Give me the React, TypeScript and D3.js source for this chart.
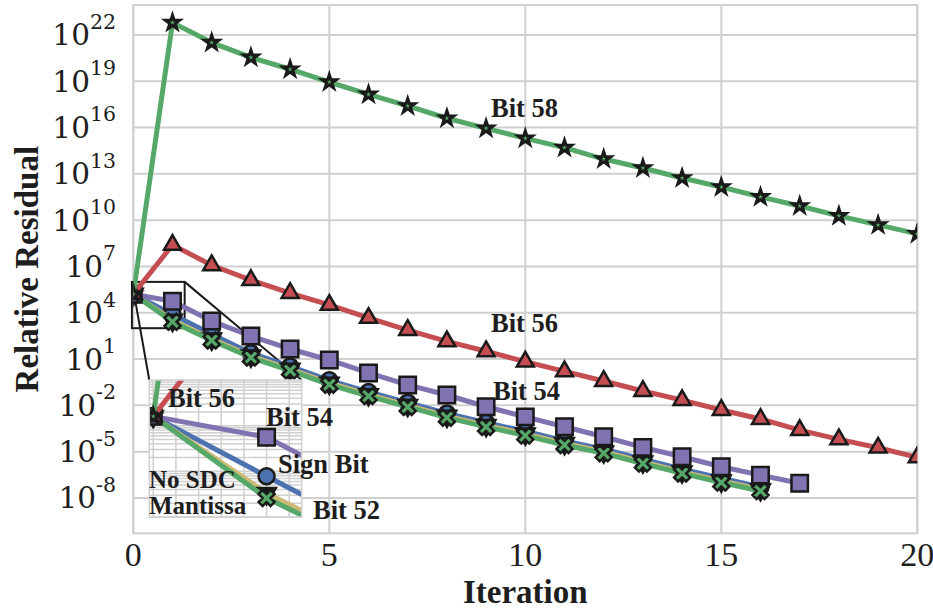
import React from 'react';
import * as d3 from 'd3';

// ---- data (relative residual per iteration) ----
const iterations = [0,1,2,3,4,5,6,7,8,9,10,11,12,13,14,15,16,17,18,19,20];
const bit58 = [1.6e5, 6.3e22, 3.2e21, 3.5e20, 6.0e19, 8.9e18, 1.4e18, 2.5e17, 4.0e16, 8.9e15, 2.0e15, 5.0e14, 9.1e13, 2.4e13, 5.4e12, 1.4e12, 3.2e11, 8.3e10, 1.9e10, 4.9e9, 1.3e9];
const bit56 = [1.6e5, 2.5e8, 1.2e7, 1.3e6, 1.9e5, 3.2e4, 4.6e3, 7.6e2, 1.4e2, 32, 6.8, 1.6, 0.38, 0.085, 0.022, 5.0e-3, 1.3e-3, 2.5e-4, 6.3e-5, 1.8e-5, 4.3e-6];
const bit54 = [1.6e5, 5.6e4, 2.9e3, 3.1e2, 45, 8.7, 1.26, 0.21, 0.047, 8.1e-3, 1.8e-3, 4.1e-4, 9.3e-5, 1.9e-5, 4.7e-6, 1.05e-6, 3.0e-7, 8.9e-8];
const signBit = [1.6e5, 7.8e3, 4.0e2, 24, 3.3, 0.42, 0.074, 0.015, 3.0e-3, 7.4e-4, 2.1e-4, 5.0e-5, 1.45e-5, 3.2e-6, 7.2e-7, 1.9e-7, 5.2e-8];
const noSDC = [1.6e5, 3.3e3, 2.0e2, 15.8, 2.2, 0.28, 0.05, 0.01, 2.0e-3, 5.0e-4, 1.4e-4, 3.4e-5, 9.8e-6, 2.2e-6, 4.9e-7, 1.26e-7, 3.5e-8];
const mantissa = [1.6e5, 2.6e3, 1.6e2, 12.6, 1.8, 0.22, 0.04, 7.9e-3, 1.6e-3, 4.0e-4, 1.1e-4, 2.7e-5, 7.8e-6, 1.7e-6, 3.9e-7, 1.0e-7, 2.8e-8];

const xTicks = [0, 5, 10, 15, 20];
const yTickExps = [22, 19, 16, 13, 10, 7, 4, 1, -2, -5, -8];
const insetXTicks = [0, 0.2, 0.4, 0.6, 0.8, 1.0, 1.2];

// drawing order: bottom group first, so squares / X marks sit on top
const seriesList = [
  { name: 'Sign Bit', values: signBit, color: '#4C72B0', marker: 'circle' },
  { name: 'No SDC', values: noSDC, color: '#CCB974', marker: 'triangleDown' },
  { name: 'Mantissa', values: mantissa, color: '#55A868', marker: 'x' },
  { name: 'Bit 54', values: bit54, color: '#8172B2', marker: 'square' },
  { name: 'Bit 56', values: bit56, color: '#C44E52', marker: 'triangle' },
  { name: 'Bit 58', values: bit58, color: '#55A868', marker: 'star' },
];

const labels = [
  { text: 'Bit 58', x: 491, y: 117, size: 26.5 },
  { text: 'Bit 56', x: 491, y: 332, size: 26.5 },
  { text: 'Bit 54', x: 493, y: 400, size: 26.5 },
  { text: 'Bit 56', x: 168, y: 407, size: 26.5 },
  { text: 'Bit 54', x: 266, y: 426, size: 26.5 },
  { text: 'Sign Bit', x: 278, y: 473, size: 26.5 },
  { text: 'No SDC', x: 149, y: 488, size: 25 },
  { text: 'Mantissa', x: 149, y: 513.5, size: 25 },
  { text: 'Bit 52', x: 313, y: 519, size: 26.5 },
];

const W = 933, H = 609;
const L = 133.3, R = 917.3, T = 5, B = 533.3;
const INS = { l: 149.3, r: 301.7, t: 380, b: 517 };
const GRID = '#d0d0d0';
const EDGE = '#1a1a1a';
const TEXT = '#1e1e1e';

function markerPath(kind: string): { d: string; rot: number } {
  switch (kind) {
    case 'star': return { d: d3.symbol(d3.symbolStar, 62)() as string, rot: 0 };
    case 'triangle': return { d: d3.symbol(d3.symbolTriangle, 125)() as string, rot: 0 };
    case 'triangleDown': return { d: d3.symbol(d3.symbolTriangle, 150)() as string, rot: 180 };
    case 'square': return { d: d3.symbol(d3.symbolSquare, 270)() as string, rot: 0 };
    case 'circle': return { d: d3.symbol(d3.symbolCircle, 200)() as string, rot: 0 };
    case 'x': return { d: d3.symbol(d3.symbolCross, 160)() as string, rot: 45 };
  }
  return { d: '', rot: 0 };
}

function Series({ s, x, y, clip }: any) {
  const line = d3.line<number>().x((_, i) => x(iterations[i])).y((v) => y(v));
  const m = markerPath(s.marker);
  const fill = s.marker === 'triangleDown' ? EDGE : s.color;
  return (
    <g clipPath={clip}>
      <path d={line(s.values) || ''} fill="none" stroke={s.color} strokeWidth={5} strokeLinejoin="round" />
      {s.values.map((v: number, i: number) => (
        <path key={i} d={m.d}
          transform={`translate(${x(iterations[i])},${y(v)}) rotate(${m.rot})`}
          fill={fill} stroke={EDGE} strokeWidth={s.marker === 'star' ? 3 : 2.5} strokeLinejoin="miter" />
      ))}
    </g>
  );
}

export default function App() {
  const x = d3.scaleLinear().domain([0, 20]).range([L, R]);
  const y = d3.scaleLog().domain([Math.pow(10, -10.29), Math.pow(10, 23.94)]).range([B, T]);
  const ix = d3.scaleLinear().domain([-0.035, 1.31]).range([INS.l, INS.r]);
  const iy = d3.scaleLog().domain([1e3, 1e6]).range([INS.b, INS.t]);

  const minorTicks: number[] = [];
  for (let e = 3; e < 6; e++) for (let k = 1; k < 10; k++) minorTicks.push(k * Math.pow(10, e));

  const rx0 = x(-0.035), rx1 = x(1.31), ry0 = y(1e6), ry1 = y(1e3);

  return (
    <div style={{ position: 'fixed', left: 0, top: 0 }}>
      <svg width={W} height={H} style={{ display: 'block', background: '#fff' }}>
        <defs>
          <clipPath id="main"><rect x={L} y={T} width={R - L} height={B - T} /></clipPath>
          <clipPath id="ins"><rect x={INS.l} y={INS.t} width={INS.r - INS.l} height={INS.b - INS.t} /></clipPath>
        </defs>
        <rect x={L} y={T} width={R - L} height={B - T} fill="#fff" />
        {xTicks.map((t) => (
          <line key={'gx' + t} x1={x(t)} x2={x(t)} y1={T} y2={B} stroke={GRID} strokeWidth={2} />
        ))}
        {yTickExps.map((e) => (
          <line key={'gy' + e} x1={L} x2={R} y1={y(Math.pow(10, e))} y2={y(Math.pow(10, e))} stroke={GRID} strokeWidth={2} />
        ))}
        <rect x={L} y={T} width={R - L} height={B - T} fill="none" stroke={GRID} strokeWidth={2} />

        {/* zoom rectangle and connectors */}
        <rect x={rx0} y={ry0} width={rx1 - rx0} height={ry1 - ry0} fill="none" stroke={EDGE} strokeWidth={2} />
        <line x1={rx0} y1={ry0} x2={INS.l} y2={INS.t} stroke={EDGE} strokeWidth={2} />
        <line x1={rx1} y1={ry0} x2={INS.r} y2={INS.t} stroke={EDGE} strokeWidth={2} />

        {seriesList.map((s) => <Series key={s.name + 'm'} s={s} x={x} y={y} clip="url(#main)" />)}

        {/* inset */}
        <rect x={INS.l} y={INS.t} width={INS.r - INS.l} height={INS.b - INS.t} fill="#fff" />
        {insetXTicks.map((t) => (
          <line key={'igx' + t} x1={ix(t)} x2={ix(t)} y1={INS.t} y2={INS.b} stroke={GRID} strokeWidth={1.5} />
        ))}
        {minorTicks.map((v) => (
          <line key={'igy' + v} x1={INS.l} x2={INS.r} y1={iy(v)} y2={iy(v)} stroke={GRID} strokeWidth={1.5} />
        ))}
        {seriesList.map((s) => <Series key={s.name + 'i'} s={s} x={ix} y={iy} clip="url(#ins)" />)}
        <rect x={INS.l} y={INS.t} width={INS.r - INS.l} height={INS.b - INS.t} fill="none" stroke={GRID} strokeWidth={1.5} />

        {/* tick labels */}
        {xTicks.map((t) => (
          <text key={'xt' + t} x={x(t)} y={566} textAnchor="middle" fontFamily="Liberation Serif" fontSize={34} fill={TEXT}>{t}</text>
        ))}
        {yTickExps.map((e) => (
          <text key={'yt' + e} x={116} y={y(Math.pow(10, e)) + 10.5} textAnchor="end" fontFamily="DejaVu Serif" fontSize={29.5} fill={TEXT}>
            10<tspan dy={-16.6} fontSize={20.5}>{e < 0 ? '-' + Math.abs(e) : e}</tspan>
          </text>
        ))}

        <text x={(L + R) / 2} y={603} textAnchor="middle" fontFamily="Liberation Serif" fontWeight="bold" fontSize={33} fill={TEXT}>Iteration</text>
        <text transform={`translate(38,${(T + B) / 2}) rotate(-90)`} textAnchor="middle" fontFamily="Liberation Serif" fontWeight="bold" fontSize={33} fill={TEXT}>Relative Residual</text>

        {labels.map((l, i) => (
          <text key={'lb' + i} x={l.x} y={l.y} fontFamily="Liberation Serif" fontWeight="bold" fontSize={l.size} fill={TEXT}>{l.text}</text>
        ))}
      </svg>
    </div>
  );
}
